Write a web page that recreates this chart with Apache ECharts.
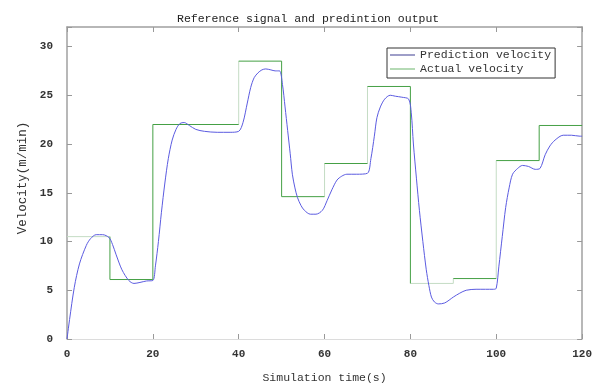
<!DOCTYPE html>
<html><head><meta charset="utf-8">
<script src="https://cdn.jsdelivr.net/npm/echarts@6/dist/echarts.min.js"></script>
<style>html,body{margin:0;padding:0;background:#fff}#c{width:595px;height:389px}</style>
</head><body><div id="c"></div>
<script>
const titleText = 'Reference signal and predintion output';
const xName = 'Simulation time(s)';
const yName = 'Velocity(m/min)';
const seriesNames = ['Prediction velocity', 'Actual velocity'];

// Actual (reference) velocity: step boundaries and the level held on each interval
const stepTimes  = [0, 10, 20, 40, 50, 60, 70, 80, 90, 100, 110, 120];
const stepLevels = [10.5, 6.1, 22.0, 28.5, 14.6, 18.0, 25.9, 5.7, 6.2, 18.3, 21.9];

// Prediction velocity samples
const predTime = [0, 0.6, 1.7, 2.9, 4.5, 5.5, 6.8, 8.3, 9.8, 10.6,
  11.4, 12.8, 14.4, 15.6, 17, 18.5, 20, 20.6, 21.3, 22,
  22.8, 23.6, 24.5, 25.4, 26.3, 27.3, 28.5, 30, 32, 35,
  38, 40, 41, 42, 42.8, 43.6, 44.5, 45.4, 46.3, 47.5,
  48.5, 49.5, 50.2, 50.8, 51.4, 52, 52.5, 53.1, 53.7, 54.5,
  55.3, 56.7, 58, 59.5, 60.6, 61.7, 62.9, 64, 65.2, 67.5,
  70, 70.8, 71.6, 72.2, 73, 74, 75.3, 76.5, 78, 79.6,
  80.2, 80.7, 81.4, 82.1, 82.9, 83.7, 84.3, 84.9, 85.6, 86.5,
  88, 90, 91.5, 93, 95.3, 97.5, 99.4, 100, 100.6, 101.4,
  102.2, 103, 103.8, 105, 106.1, 107.5, 109.1, 110.2, 111.4, 112.5,
  113.7, 115.6, 117.5, 119.5, 120];
const predVel = [0, 2.0, 5.3, 7.7, 9.6, 10.3, 10.7, 10.7, 10.4, 9.7,
  8.7, 7.1, 6.0, 5.7, 5.8, 5.95, 6.0, 7.5, 10, 13,
  16, 18.5, 20.4, 21.5, 22.1, 22.2, 21.9, 21.5, 21.3, 21.2,
  21.2, 21.3, 22.2, 24.2, 25.8, 26.8, 27.3, 27.6, 27.7, 27.6,
  27.5, 27.5, 26.1, 23.8, 21.4, 19, 16.9, 15.5, 14.5, 13.7,
  13.2, 12.8, 12.8, 13.2, 14.2, 15.3, 16.3, 16.7, 16.9, 16.9,
  17.0, 18.5, 20.8, 22.7, 23.8, 24.6, 25.0, 24.9, 24.8, 24.6,
  23.2, 20.0, 16.5, 13.2, 10.0, 7.1, 5.5, 4.3, 3.8, 3.6,
  3.7, 4.3, 4.7, 5.0, 5.1, 5.1, 5.1, 5.2, 7.4, 10.5,
  13.5, 15.5, 16.9, 17.5, 17.8, 17.7, 17.4, 17.5, 18.9, 19.8,
  20.4, 20.9, 20.9, 20.8, 20.8];

// which parts of the step line look pale in the reference (style only)
const paleHorizontal = [0, 7];              // interval indices
const paleVertical = [40, 60, 70, 90, 100]; // jump times

const FONT = '"Liberation Mono", "DejaVu Sans Mono", monospace';

const solidPts = [], palePts = [];
const BREAK = [NaN, NaN];
for (let i = 0; i < stepLevels.length; i++) {
  const a = stepTimes[i], b = stepTimes[i + 1], v = stepLevels[i];
  const hTarget = paleHorizontal.includes(i) ? palePts : solidPts;
  hTarget.push([a, v], [b, v], BREAK);
  if (i < stepLevels.length - 1) {
    const vTarget = paleVertical.includes(b) ? palePts : solidPts;
    vTarget.push([b, v], [b, stepLevels[i + 1]], BREAK);
  }
}
const predData = predTime.map((t, i) => [t, predVel[i]]);

const labelStyle = { fontFamily: FONT, fontSize: 11, fontWeight: 'bold', color: '#333' };
const nameStyle = { fontFamily: FONT, fontSize: 11.5, color: '#333' };
const frame = { show: true, onZero: false, lineStyle: { color: '#a0a0a0', width: 1.5 } };
const ticks = { show: true, inside: true, length: 5, lineStyle: { color: '#999' } };

const chart = echarts.init(document.getElementById('c'), null, { renderer: 'canvas' });
chart.setOption({
  backgroundColor: '#fff',
  animation: false,
  title: {
    text: titleText, left: 172, top: 8,
    textStyle: { fontFamily: FONT, fontSize: 11.5, fontWeight: 'normal', color: '#222' }
  },
  legend: {
    data: seriesNames,
    orient: 'vertical', left: 387, top: 48,
    backgroundColor: '#fff', borderColor: '#333', borderWidth: 1,
    padding: [1, 4, 3, 3], itemGap: 2, itemWidth: 25, itemHeight: 1,
    icon: 'rect',
    textStyle: { fontFamily: FONT, fontSize: 11.5, color: '#333' }
  },
  grid: { left: 67, right: 9, top: 27, bottom: 47, containLabel: false },
  xAxis: [
    { type: 'value', position: 'bottom', min: 0, max: 120, interval: 20,
      axisLine: { show: true, onZero: false, lineStyle: { color: '#dcdcdc', width: 1 } },
      axisTick: ticks, splitLine: { show: false },
      axisLabel: Object.assign({ margin: 10 }, labelStyle),
      name: xName, nameLocation: 'middle', nameGap: 33, nameTextStyle: nameStyle },
    { type: 'value', position: 'top', min: 0, max: 120, interval: 20,
      axisLine: frame, axisTick: ticks, splitLine: { show: false }, axisLabel: { show: false } }
  ],
  yAxis: [
    { type: 'value', position: 'left', min: 0, max: 32, interval: 5,
      axisLine: frame, axisTick: ticks, splitLine: { show: false },
      axisLabel: Object.assign({ margin: 14, formatter: v => (v % 5 === 0 ? String(v) : '') }, labelStyle),
      name: yName, nameLocation: 'middle', nameGap: 36,
      nameTextStyle: Object.assign({}, nameStyle, { fontSize: 12.5, padding: [0, 0, 0, 10] }) },
    { type: 'value', position: 'right', min: 0, max: 32, interval: 5,
      axisLine: frame, axisTick: ticks, splitLine: { show: false }, axisLabel: { show: false } }
  ],
  series: [
    { name: seriesNames[1] + ' ', type: 'line', data: palePts, showSymbol: false, silent: true,
      connectNulls: false, lineStyle: { color: '#c4dcc4', width: 1 }, itemStyle: { color: '#c4dcc4' } },
    { name: seriesNames[1], type: 'line', data: solidPts, showSymbol: false,
      connectNulls: false, lineStyle: { color: '#45a045', width: 1 }, itemStyle: { color: '#6ab46a' } },
    { name: seriesNames[0], type: 'line', data: predData, showSymbol: false, smooth: 0.3,
      lineStyle: { color: '#5b5be0', width: 1 }, itemStyle: { color: '#3d3d90' }, z: 3 }
  ]
});
</script>
</body></html>
